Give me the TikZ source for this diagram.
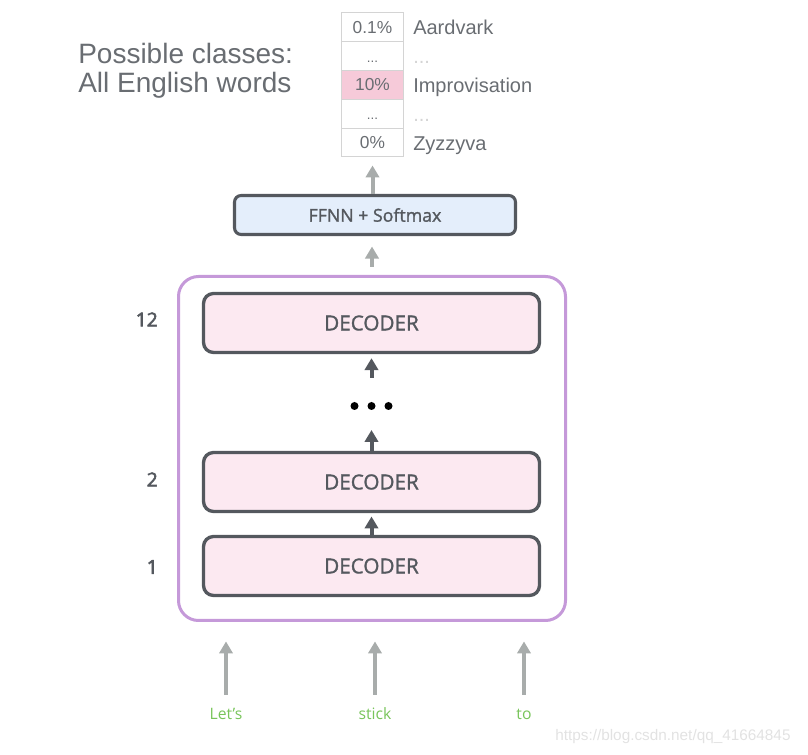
\documentclass[tikz,border=0pt]{standalone}
\usepackage{fontspec}
\setmainfont{Liberation Sans}
\newfontfamily\opensans{Open Sans}
\newfontfamily\opensansmed{Open Sans}[FakeBold=1.4]
\newfontfamily\opensansbold{Open Sans}[FakeBold=3]
\usetikzlibrary{arrows.meta}
\definecolor{boxline}{RGB}{84,88,94}
\definecolor{decfill}{RGB}{252,233,241}
\definecolor{ffnnfill}{RGB}{228,238,251}
\definecolor{stackline}{RGB}{197,153,217}
\definecolor{arrowgray}{RGB}{168,172,171}
\definecolor{cellline}{RGB}{212,212,212}
\definecolor{cellhigh}{RGB}{246,202,217}
\definecolor{textgray}{RGB}{105,109,114}
\definecolor{wordgreen}{RGB}{120,196,90}
\definecolor{markgray}{RGB}{226,226,226}
\begin{document}
\begin{tikzpicture}[x=0.75pt, y=-0.75pt,
    decbox/.style={draw=boxline, fill=decfill, line width=2.5pt, rounded corners=7.5pt,
        minimum width=252pt, minimum height=44.25pt, text=boxline,
        font=\opensansmed\fontsize{15.5}{18}\selectfont},
    ffnnbox/.style={draw=boxline, fill=ffnnfill, line width=2.3pt, rounded corners=5pt,
        minimum width=210.75pt, minimum height=29.25pt, text=boxline,
        font=\opensansmed\fontsize{13.3}{16}\selectfont},
    stackbox/.style={draw=stackline, line width=2.25pt, rounded corners=15pt,
        minimum width=290.25pt, minimum height=258pt},
    cell/.style={draw=cellline, line width=0.75pt, minimum width=46.5pt, minimum height=21.6pt,
        inner sep=0pt, text height=9pt, text depth=0pt, text=textgray,
        font=\fontsize{13}{15}\selectfont},
    rowlabel/.style={anchor=base west, inner sep=0pt, text=textgray,
        font=\fontsize{15}{18}\selectfont},
    layernum/.style={anchor=east, inner sep=0pt, text=boxline,
        font=\opensansbold\fontsize{14.4}{17}\selectfont},
    word/.style={text=wordgreen, text height=8pt, text depth=2pt,
        font=\opensans\fontsize{11.8}{14}\selectfont},
    grayarrow/.style={draw=arrowgray, line width=3pt, -{Triangle[width=10pt,length=9pt]}},
    darkarrow/.style={draw=boxline, line width=3pt, -{Triangle[width=10pt,length=9pt]}}]

    \useasboundingbox (0,0) rectangle (808,755);

    \node[anchor=base west, inner sep=0pt, text=textgray, font=\fontsize{21}{24}\selectfont]
        (pc1) at (78,63.3) {Possible classes:};
    \node[anchor=base west, inner sep=0pt, text=textgray, font=\fontsize{21}{24}\selectfont]
        (pc2) at (78,92.7) {All English words};

    \node[cell] (p1) at (372.5,27.4) {0.1\%};
    \node[cell] (p2) at (372.5,56.2) {\fontsize{10}{12}\selectfont ...};
    \node[cell, fill=cellhigh] (p3) at (372.5,85) {10\%};
    \node[cell] (p4) at (372.5,113.8) {\fontsize{10}{12}\selectfont ...};
    \node[cell] (p5) at (372.5,142.6) {0\%};
    \node[rowlabel] (w1) at (413,34.9) {Aardvark};
    \node[rowlabel, text=cellline] (w2) at (413,63.7) {...};
    \node[rowlabel] (w3) at (413,92.5) {Improvisation};
    \node[rowlabel, text=cellline] (w4) at (413,121.3) {...};
    \node[rowlabel] (w5) at (413,150.1) {Zyzzyva};

    \node[ffnnbox] (ffnn) at (375,215) {FFNN + Softmax};
    \node[stackbox] (stack) at (372,448.5) {};
    \node[decbox] (dec12) at (371.5,323) {DECODER};
    \node[decbox] (dec2) at (371.5,482) {DECODER};
    \node[decbox] (dec1) at (371.5,566) {DECODER};

    \node[layernum] (lab12) at (158,319.5) {12};
    \node[layernum] (lab2) at (158,479.5) {2};
    \node[layernum] (lab1) at (158,567) {1};

    \coordinate (dots) at (371.5,406);
    \fill[black] (dots) circle (3pt);
    \fill[black] (354.5,406) circle (3pt);
    \fill[black] (388.5,406) circle (3pt);

    \node[word] (lets) at (226,716) {Let’s};
    \node[word] (stick) at (375,716) {stick};
    \node[word] (to) at (524,716) {to};

    \draw[grayarrow, shorten >=6pt] (ffnn.north -| p5.south) -- (p5.south);
    \draw[grayarrow, shorten <=6pt, shorten >=7.9pt] (stack.north) -- (stack.north |- ffnn.south);
    \draw[darkarrow, shorten <=21pt, shorten >=3pt] (dots) -- (dec12.south);
    \draw[darkarrow, shorten >=18pt] (dec2.north) -- (dots);
    \draw[darkarrow, shorten >=2.5pt] (dec1.north) -- (dec2.south);
    \draw[grayarrow, shorten <=7.4pt, shorten >=14.6pt] (lets.north) -- (lets.north |- stack.south);
    \draw[grayarrow, shorten <=7.4pt, shorten >=14.6pt] (stick.north) -- (stick.north |- stack.south);
    \draw[grayarrow, shorten <=7.4pt, shorten >=14.6pt] (to.north) -- (to.north |- stack.south);

    \node[anchor=base west, inner sep=0pt, text=markgray, font=\fontsize{11.5}{14}\selectfont]
        (mark) at (555,740.7) {https://blog.csdn.net/qq\_41664845};

\end{tikzpicture}
\end{document}
